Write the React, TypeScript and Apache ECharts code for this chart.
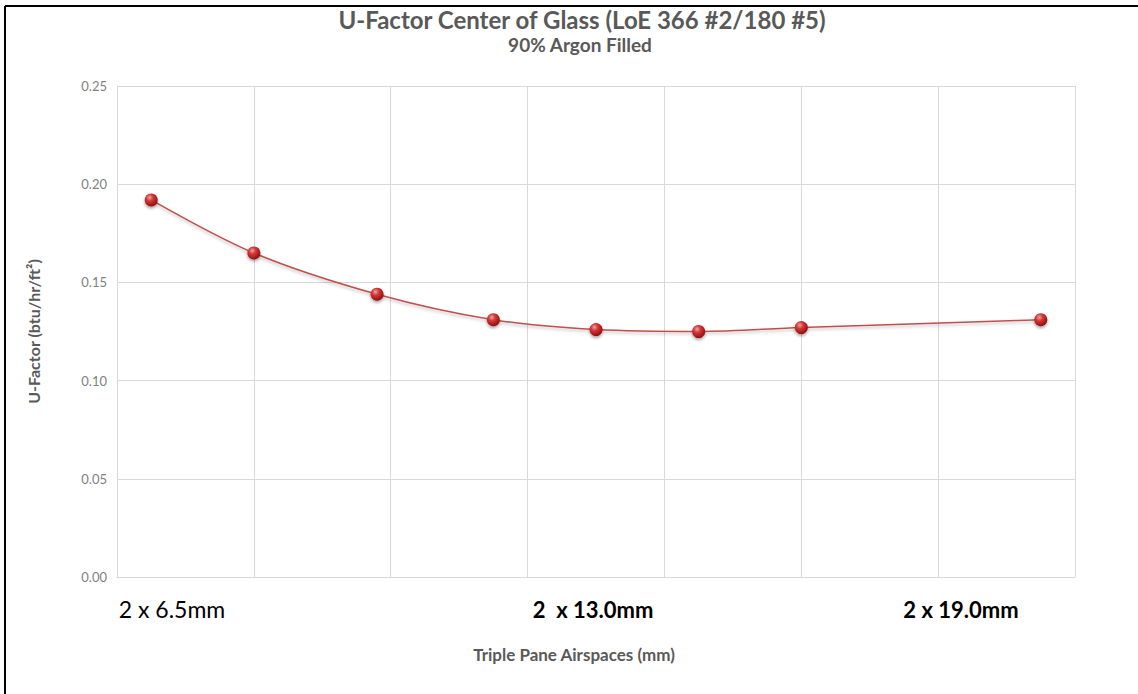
import React, { useEffect, useRef } from "react";
import * as echarts from "echarts";

const titleText = "U-Factor Center of Glass (LoE 366 #2/180 #5)";
const subtitleText = "90% Argon Filled";
const yAxisName = "U-Factor (btu/hr/ft²)";
const xAxisName = "Triple Pane Airspaces (mm)";

// airspace (mm) and U-factor values
const airspaceMm = [6.5, 8.0, 9.8, 11.5, 13.0, 14.5, 16.0, 19.5];
const uFactor = [0.192, 0.165, 0.144, 0.131, 0.126, 0.125, 0.127, 0.131];

// category text boxes under the plot
const spanLabels = ["2 x 6.5mm", "2  x 13.0mm", "2 x 19.0mm"];

const FONT = "Lato, 'Open Sans', sans-serif";

export default function App() {
  const ref = useRef<HTMLDivElement>(null);

  useEffect(() => {
    if (!ref.current) return;
    const chart = echarts.init(ref.current, undefined, { renderer: "svg" });
    const gridColor = "#d9d9d9";
    const data = airspaceMm.map((x, i) => [x, uFactor[i]]);
    chart.setOption({
      animation: false,
      backgroundColor: "#ffffff",
      title: [
        {
          text: titleText,
          left: 577,
          top: 2,
          textAlign: "center",
          textStyle: { fontFamily: FONT, fontSize: 24, fontWeight: "bold", color: "#595959" },
        },
        {
          text: subtitleText,
          left: 575,
          top: 30,
          textAlign: "center",
          textStyle: { fontFamily: FONT, fontSize: 19, fontWeight: "bold", color: "#595959" },
        },
      ],
      grid: { left: 117, right: 63, top: 86, bottom: 117, containLabel: false },
      xAxis: {
        type: "value",
        min: 6,
        max: 20,
        interval: 2,
        axisLine: { show: true, lineStyle: { color: gridColor } },
        axisTick: { show: false },
        axisLabel: { show: false },
        splitLine: { show: true, lineStyle: { color: gridColor, width: 1 } },
      },
      yAxis: {
        type: "value",
        min: 0,
        max: 0.25,
        interval: 0.05,
        axisLine: { show: true, lineStyle: { color: gridColor } },
        axisTick: { show: false },
        axisLabel: {
          fontFamily: FONT,
          fontSize: 13,
          color: "#7f7f7f",
          margin: 10,
          formatter: (v: number) => v.toFixed(2),
        },
        splitLine: { show: true, lineStyle: { color: gridColor, width: 1 } },
        name: yAxisName,
        nameLocation: "middle",
        nameGap: 76,
        nameRotate: 90,
        nameTextStyle: { fontFamily: FONT, fontSize: 16, fontWeight: "bold", color: "#595959" },
      },
      series: [
        {
          type: "line",
          data,
          smooth: 0.35,
          symbol: "circle",
          symbolSize: 13,
          lineStyle: {
            color: "#c0504d",
            width: 1.6,
            shadowColor: "rgba(0,0,0,0.25)",
            shadowBlur: 3,
            shadowOffsetY: 2,
          },
          itemStyle: {
            color: {
              type: "radial",
              x: 0.38,
              y: 0.32,
              r: 0.75,
              colorStops: [
                { offset: 0, color: "#f4a3a3" },
                { offset: 0.35, color: "#d33a3a" },
                { offset: 0.8, color: "#a31515" },
                { offset: 1, color: "#7a0b0b" },
              ],
            },
            borderWidth: 0,
            shadowColor: "rgba(0,0,0,0.35)",
            shadowBlur: 3,
            shadowOffsetY: 2,
          },
          z: 3,
        },
      ],
      graphic: [
        {
          type: "line",
          shape: { x1: 5, y1: 6, x2: 1138, y2: 6 },
          style: { stroke: "#000", lineWidth: 2 },
        },
        {
          type: "line",
          shape: { x1: 5, y1: 6, x2: 5, y2: 694 },
          style: { stroke: "#000", lineWidth: 2 },
        },
        {
          type: "text",
          x: 172,
          y: 609,
          style: {
            text: spanLabels[0],
            font: `23px ${FONT}`,
            fill: "#000",
            align: "center",
            verticalAlign: "middle",
          },
        },
        {
          type: "text",
          x: 593,
          y: 609,
          style: {
            text: spanLabels[1],
            font: `bold 22px ${FONT}`,
            fill: "#000",
            align: "center",
            verticalAlign: "middle",
          },
        },
        {
          type: "text",
          x: 961,
          y: 609,
          style: {
            text: spanLabels[2],
            font: `bold 22px ${FONT}`,
            fill: "#000",
            align: "center",
            verticalAlign: "middle",
          },
        },
        {
          type: "text",
          x: 574,
          y: 654,
          style: {
            text: xAxisName,
            font: `bold 17px ${FONT}`,
            fill: "#595959",
            align: "center",
            verticalAlign: "middle",
          },
        },
      ],
    });
    return () => chart.dispose();
  }, []);

  return (
    <div
      ref={ref}
      style={{ position: "fixed", left: 0, top: 0, width: 1138, height: 694, background: "#fff" }}
    />
  );
}
